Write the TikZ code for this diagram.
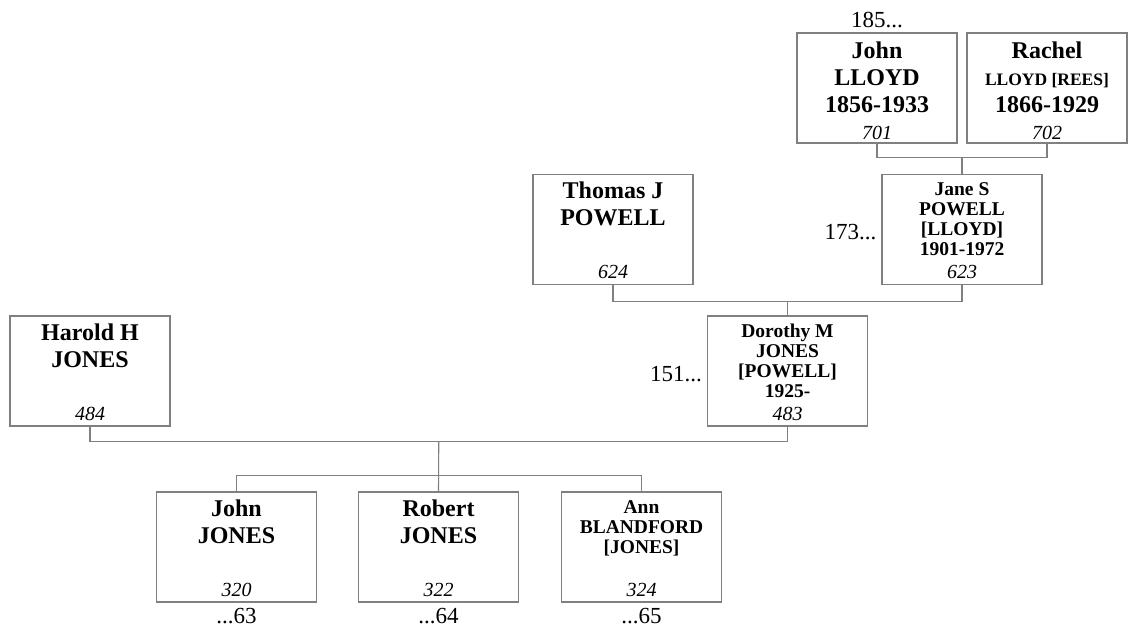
\documentclass[tikz,border=0pt]{standalone}
\usepackage{fontspec}
\setmainfont{Liberation Serif}
\usetikzlibrary{calc,positioning}
\newcommand{\bigfont}{\fontsize{24}{27}\selectfont\bfseries}
\newcommand{\smallfont}{\fontsize{19.5}{20}\selectfont\bfseries}
\newcommand{\numfont}{\fontsize{20}{20}\selectfont\mdseries\itshape}
% one card: first baseline offset, name lines, number at the foot
\newcommand{\card}[3]{\parbox[t][110pt][t]{160pt}{\centering\rule{0pt}{#1}#2\par\vfill{\numfont #3\rule[-6pt]{0pt}{6pt}}}}
\tikzset{
    person/.style={rectangle, draw=black!50, line width=1.1pt, inner sep=0pt},
    lbl/.style={inner sep=0pt, font=\fontsize{23}{26}\selectfont},
    link/.style={draw=black!50, line width=1.1pt}
}
\begin{document}
\begin{tikzpicture}[x=1pt, y=-1pt]
\useasboundingbox (0,0) rectangle (1129,627);

\node[person] (lloyd) at (877,88) {\card{25pt}{\bigfont John\\LLOYD\\1856-1933}{701}};
\node[person] (rees) at (1047,88) {\card{25pt}{\bigfont Rachel\\{\fontsize{17.5}{27}\selectfont LLOYD [REES]}\\1866-1929}{702}};
\node[person] (jane) at (962,229.5) {\card{21pt}{\smallfont Jane S\\POWELL\\{[LLOYD]}\\1901-1972}{623}};
\node[person] (thomas) at (613,229.5) {\card{24pt}{\bigfont Thomas J\\POWELL}{624}};
\node[person] (dorothy) at (787.5,371) {\card{21pt}{\smallfont Dorothy M\\JONES\\{[POWELL]}\\1925-}{483}};
\node[person] (harold) at (90,371) {\card{24pt}{\bigfont Harold H\\JONES}{484}};
\node[person] (john) at (236.5,547) {\card{24pt}{\bigfont John\\JONES}{320}};
\node[person] (robert) at (438.5,547) {\card{24pt}{\bigfont Robert\\JONES}{322}};
\node[person] (ann) at (641.5,547) {\card{21pt}{\smallfont Ann\\BLANDFORD\\{[JONES]}}{324}};

% generation numbers
\node[lbl, anchor=base] (n185) at ([yshift=5pt]lloyd.north) {185...};
\node[lbl, anchor=base east] (n173) at ([xshift=-5pt,yshift=-10pt]jane.west) {173...};
\node[lbl, anchor=base east] (n151) at ([xshift=-5pt,yshift=-10pt]dorothy.west) {151...};
\node[lbl, anchor=base] (n63) at ([yshift=-21pt]john.south) {...63};
\node[lbl, anchor=base] (n64) at ([yshift=-21pt]robert.south) {...64};
\node[lbl, anchor=base] (n65) at ([yshift=-21pt]ann.south) {...65};

% couples and their children
\draw[link] (lloyd.south) -- ++(0,14) -| (rees.south);
\draw[link] ($(lloyd.south)!.5!(rees.south)+(0,14)$) -- (jane.north);
\draw[link] (thomas.south) -- ++(0,16) -| (jane.south);
\draw[link] ($(thomas.south)!.5!(jane.south)+(0,16)$) -- (dorothy.north);
\draw[link] (harold.south) -- ++(0,15) -| (dorothy.south);
\draw[link] ($(harold.south)!.5!(dorothy.south)+(0,15)$) -- (robert.north);
\draw[link] (john.north) -- ++(0,-16) -| (ann.north);
\end{tikzpicture}
\end{document}
